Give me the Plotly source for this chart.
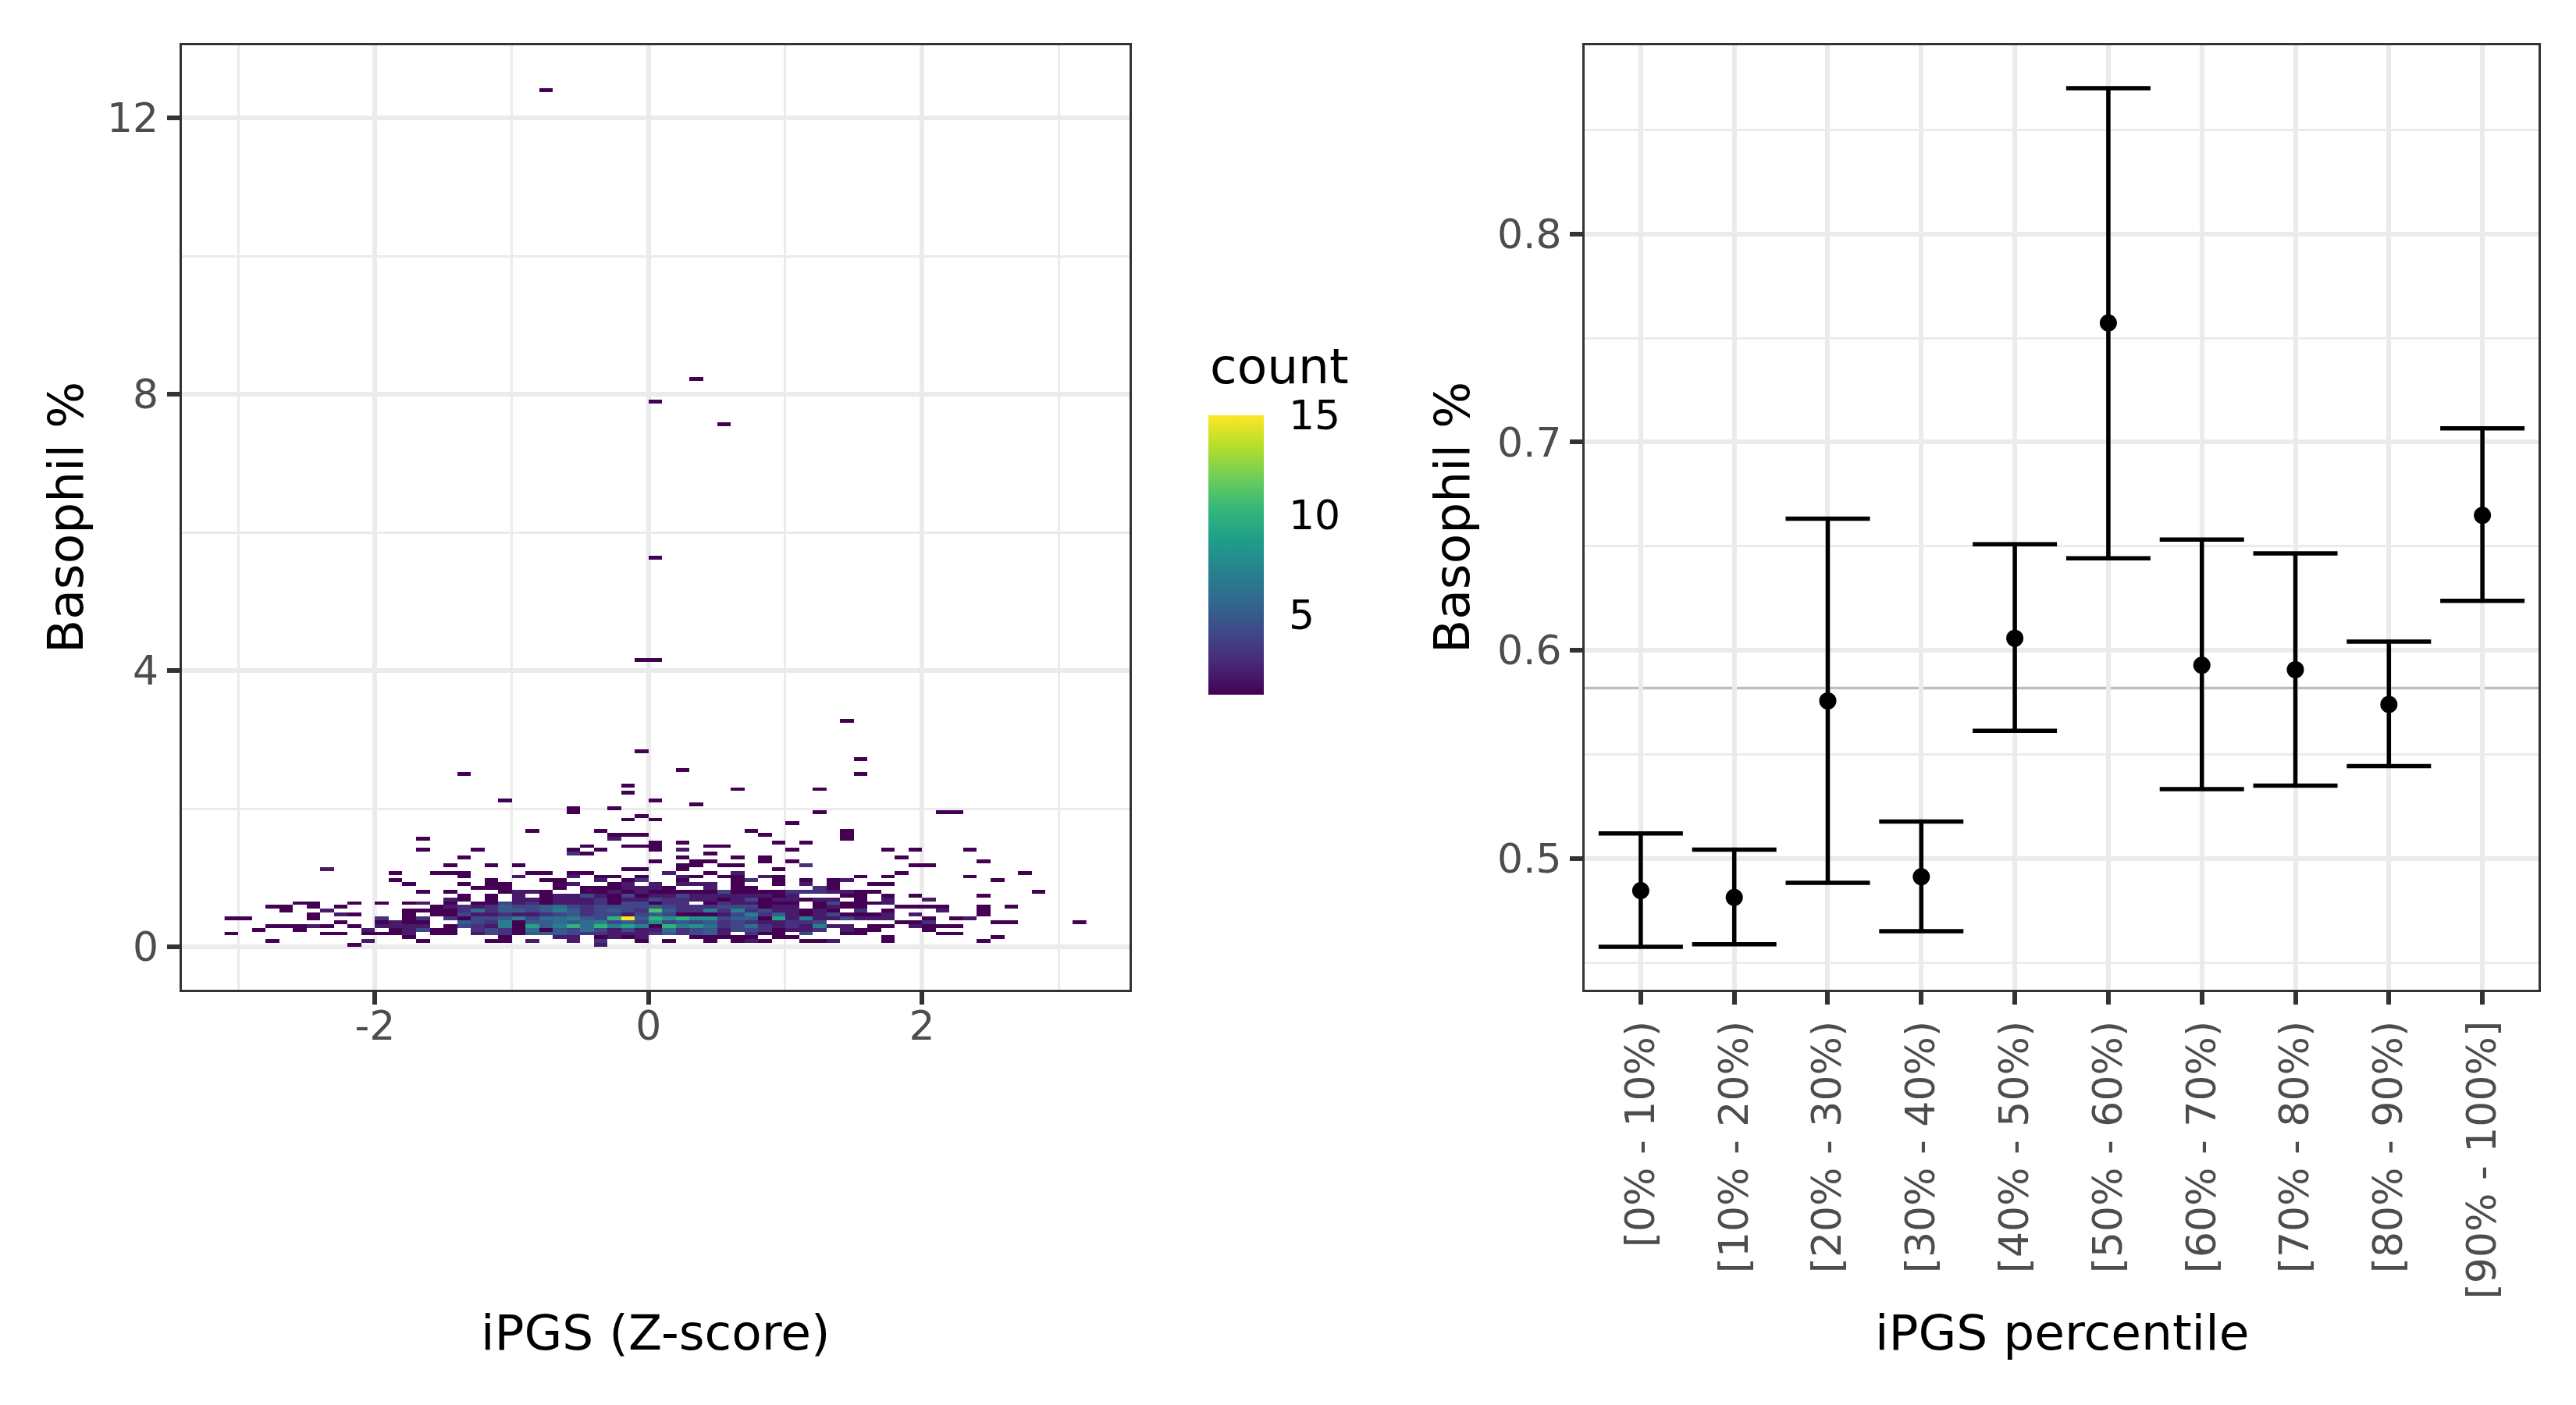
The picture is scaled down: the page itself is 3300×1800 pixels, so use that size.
import plotly.graph_objects as go

# ---------------- Left panel data: 2-D bin counts ----------------
# bins of width 0.1 (iPGS Z-score) x 0.055 (Basophil %), values are bin centres
X_BIN = 0.1
Y_BIN = 0.055
X_FIRST = -3.05
N_XBINS = 63
Y_FIRST = 0.0275
N_YBINS = 226

row_y = [0.0275, 0.0825, 0.1375, 0.1925, 0.2475, 0.3025, 0.3575, 0.4125, 0.4675, 0.5225,
         0.5775, 0.6325, 0.6875, 0.7425, 0.7975, 0.8525, 0.9075, 0.9625, 1.0175, 1.0725,
         1.1275, 1.1825, 1.2375, 1.2925, 1.3475, 1.4025, 1.4575, 1.5125, 1.5675, 1.6225,
         1.6775, 1.7875, 1.8425, 1.8975, 1.9525, 2.0075, 2.0625, 2.1175, 2.2275, 2.2825,
         2.3375, 2.5025, 2.5575, 2.7225, 2.8325, 3.2725, 4.1525, 5.6375, 7.5625, 7.8925,
         8.2225, 12.4025]

row_x = [
    [-2.15, -0.35],
    [-2.75, -2.05, -1.65, -1.15, -1.05, -0.85, -0.55, -0.35, -0.05, 0.15, 0.45, 0.65, 0.75, 0.85, 1.15, 1.25, 1.35, 1.75, 2.45],
    [-1.75, -1.05, -0.65, -0.55, -0.35, -0.25, -0.15, -0.05, 0.35, 0.45, 0.55, 0.65, 0.75, 0.95, 1.05, 1.75, 2.55],
    [-3.05, -2.35, -2.25, -2.05, -1.95, -1.85, -1.75, -1.55, -1.45, -1.25, -1.15, -1.05, -0.95, -0.85, -0.75, -0.65, -0.55, -0.45, -0.35, -0.25, -0.15, -0.05, 0.05, 0.15, 0.25, 0.35, 0.45, 0.55, 0.75, 0.85, 0.95, 1.15, 1.45, 1.55, 2.15, 2.25],
    [-2.85, -2.55, -2.05, -1.85, -1.75, -1.65, -1.55, -1.45, -1.25, -1.15, -1.05, -0.95, -0.85, -0.75, -0.65, -0.55, -0.45, -0.35, -0.25, -0.15, -0.05, 0.05, 0.15, 0.25, 0.35, 0.45, 0.55, 0.65, 0.75, 0.85, 0.95, 1.05, 1.15, 1.25, 1.45, 1.55, 1.65, 2.05],
    [-2.75, -2.65, -2.55, -2.45, -2.35, -2.15, -1.95, -1.85, -1.75, -1.65, -1.45, -1.35, -1.25, -1.15, -1.05, -0.95, -0.85, -0.75, -0.65, -0.55, -0.45, -0.35, -0.25, -0.15, -0.05, 0.05, 0.15, 0.25, 0.35, 0.45, 0.55, 0.65, 0.75, 0.85, 0.95, 1.05, 1.15, 1.25, 1.35, 1.45, 1.65, 1.75, 1.95, 2.05, 2.15, 2.25],
    [-2.25, -1.95, -1.85, -1.75, -1.65, -1.35, -1.25, -1.15, -1.05, -0.95, -0.85, -0.75, -0.65, -0.55, -0.45, -0.35, -0.25, -0.15, -0.05, 0.05, 0.15, 0.25, 0.35, 0.45, 0.55, 0.65, 0.75, 0.85, 0.95, 1.05, 1.15, 1.25, 1.85, 1.95, 2.05, 2.55, 2.65, 3.15],
    [-3.05, -2.95, -2.45, -1.95, -1.75, -1.65, -1.45, -1.35, -1.25, -1.15, -1.05, -0.95, -0.85, -0.75, -0.65, -0.55, -0.45, -0.35, -0.25, -0.15, -0.05, 0.05, 0.15, 0.25, 0.35, 0.45, 0.55, 0.65, 0.75, 0.85, 0.95, 1.05, 1.15, 1.25, 1.35, 1.45, 1.55, 1.65, 1.75, 2.05, 2.25, 2.35],
    [-2.45, -2.25, -2.15, -1.75, -1.55, -1.45, -1.35, -1.25, -1.15, -1.05, -0.95, -0.85, -0.75, -0.65, -0.55, -0.45, -0.35, -0.25, -0.15, -0.05, 0.05, 0.15, 0.25, 0.35, 0.45, 0.55, 0.65, 0.75, 0.85, 0.95, 1.05, 1.15, 1.25, 1.35, 1.45, 1.55, 1.65, 1.75, 1.95, 2.45],
    [-2.65, -2.35, -1.75, -1.65, -1.55, -1.45, -1.35, -1.25, -1.15, -1.05, -0.95, -0.85, -0.75, -0.65, -0.55, -0.45, -0.35, -0.25, -0.15, -0.05, 0.05, 0.15, 0.25, 0.35, 0.45, 0.55, 0.65, 0.75, 0.85, 0.95, 1.05, 1.15, 1.25, 1.35, 1.55, 1.75, 2.15, 2.45],
    [-2.75, -2.65, -2.45, -2.25, -1.55, -1.45, -1.35, -1.25, -1.15, -1.05, -0.95, -0.85, -0.75, -0.65, -0.55, -0.45, -0.35, -0.25, -0.15, -0.05, 0.05, 0.15, 0.25, 0.35, 0.45, 0.55, 0.65, 0.75, 0.85, 0.95, 1.05, 1.25, 1.35, 1.45, 1.55, 1.85, 1.95, 2.05, 2.15, 2.45, 2.65],
    [-2.55, -2.45, -2.15, -1.95, -1.75, -1.65, -1.45, -1.25, -1.15, -1.05, -0.95, -0.85, -0.75, -0.65, -0.55, -0.45, -0.35, -0.25, -0.15, -0.05, 0.05, 0.15, 0.25, 0.45, 0.55, 0.65, 0.75, 0.85, 0.95, 1.05, 1.25, 1.35, 1.45, 1.55, 1.65, 1.75],
    [-1.45, -1.35, -1.15, -0.95, -0.85, -0.75, -0.65, -0.55, -0.45, -0.35, -0.25, -0.15, -0.05, 0.05, 0.15, 0.25, 0.35, 0.45, 0.55, 0.65, 0.75, 0.85, 0.95, 1.05, 1.15, 1.25, 1.35, 1.55, 1.75, 2.05],
    [-1.35, -1.15, -0.95, -0.75, -0.65, -0.55, -0.45, -0.35, -0.25, -0.15, -0.05, 0.05, 0.15, 0.25, 0.35, 0.45, 0.55, 0.65, 0.75, 0.85, 0.95, 1.05, 1.45, 1.55, 1.75, 1.95, 2.45],
    [-1.65, -1.45, -1.05, -0.95, -0.85, -0.75, -0.45, -0.35, -0.25, -0.15, -0.05, 0.05, 0.15, 0.25, 0.35, 0.45, 0.55, 0.65, 0.75, 0.85, 0.95, 1.05, 1.15, 1.25, 1.35, 1.45, 1.55, 1.65, 2.85],
    [-1.25, -1.15, -1.05, -0.65, -0.45, -0.35, -0.25, -0.15, -0.05, 0.05, 0.15, 0.45, 0.65, 0.75, 1.25, 1.35],
    [-1.75, -1.35, -1.15, -1.05, -0.65, -0.55, -0.25, -0.15, 0.05, 0.25, 0.35, 0.45, 0.65, 0.95, 1.15, 1.35, 1.65, 1.75],
    [-1.85, -1.15, -0.75, -0.65, -0.35, -0.15, -0.05, 0.25, 0.65, 0.75, 0.95, 1.15, 1.35, 1.45, 2.55],
    [-1.35, -0.95, -0.55, -0.35, -0.25, -0.05, 0.25, 0.35, 0.55, 0.65, 0.85, 0.95, 1.55, 1.75, 2.35],
    [-1.85, -1.55, -1.45, -1.35, -0.85, -0.75, -0.55, -0.45, 0.15, 0.45, 0.65, 1.85, 2.75],
    [-2.35, -0.15, -0.05, 0.25, 0.95],
    [-1.45, -1.15, -0.95, 0.25, 0.35, 0.55, 0.65, 1.15, 1.95, 2.05],
    [0.05, 0.35, 0.45, 0.85, 1.05, 2.45],
    [-1.35, 0.25, 0.65, 0.85, 1.85],
    [-0.55, -0.45, 0.45],
    [-1.65, -1.25, -0.55, -0.35, 0.05, 0.25, 1.05, 1.75, 1.95, 2.35],
    [-0.45, -0.15, -0.05, 0.05, 0.45, 0.55],
    [0.05, 0.25, 0.95, 1.15],
    [-1.65, -0.25, 1.45],
    [-0.25, -0.15, -0.05, 0.85, 1.45],
    [-0.85, -0.35, 0.75, 1.45],
    [1.05],
    [-0.15, 0.05],
    [-0.05],
    [-0.55, 1.25, 2.15, 2.25],
    [-0.55, -0.25],
    [0.35],
    [-1.05, 0.05],
    [-0.15],
    [0.65, 1.25],
    [-0.15],
    [-1.35, 1.55],
    [0.25],
    [1.55],
    [-0.05],
    [1.45],
    [-0.05, 0.05],
    [0.05],
    [0.55],
    [0.05],
    [0.35],
    [-0.75],
]

row_count = [
    [1, 2],
    [1, 2, 1, 1, 1, 2, 2, 3, 1, 1, 1, 1, 2, 1, 1, 1, 2, 1, 1],
    [1, 1, 2, 2, 1, 2, 1, 2, 1, 1, 1, 1, 1, 1, 1, 1, 1],
    [1, 1, 1, 1, 1, 1, 2, 1, 1, 2, 4, 3, 1, 5, 5, 5, 4, 3, 3, 2, 2, 2, 3, 5, 3, 4, 5, 2, 3, 1, 1, 4, 1, 1, 1, 1],
    [1, 1, 2, 1, 2, 4, 1, 1, 3, 4, 3, 1, 6, 1, 5, 4, 6, 4, 2, 4, 2, 2, 6, 3, 4, 5, 2, 4, 4, 3, 1, 2, 2, 3, 2, 1, 1, 1],
    [1, 1, 1, 2, 1, 1, 2, 2, 2, 2, 1, 4, 3, 2, 7, 1, 9, 5, 7, 10, 6, 10, 7, 9, 7, 1, 10, 7, 8, 6, 3, 4, 6, 3, 2, 3, 2, 7, 2, 2, 1, 1, 2, 1, 1, 1],
    [1, 1, 2, 1, 1, 5, 4, 3, 7, 1, 5, 5, 6, 5, 6, 7, 4, 5, 4, 8, 4, 5, 4, 5, 3, 4, 3, 2, 2, 3, 3, 4, 1, 1, 3, 1, 1, 1],
    [1, 1, 1, 3, 1, 3, 3, 1, 4, 4, 5, 7, 4, 6, 6, 7, 5, 4, 10, 15, 5, 10, 8, 10, 8, 8, 4, 5, 5, 1, 9, 2, 7, 2, 2, 4, 2, 2, 2, 1, 1, 2],
    [1, 2, 1, 1, 1, 1, 4, 2, 2, 3, 2, 2, 3, 4, 5, 3, 4, 4, 2, 4, 5, 4, 1, 1, 1, 2, 4, 7, 3, 5, 2, 1, 2, 4, 1, 1, 1, 2, 2, 1],
    [1, 2, 1, 1, 1, 1, 3, 6, 3, 5, 5, 4, 5, 7, 5, 3, 4, 5, 4, 3, 11, 5, 3, 3, 7, 3, 7, 3, 4, 2, 2, 1, 2, 1, 3, 1, 2, 1],
    [1, 1, 1, 1, 1, 2, 3, 2, 3, 5, 4, 4, 5, 6, 4, 3, 4, 4, 4, 4, 5, 4, 3, 3, 3, 4, 4, 4, 1, 2, 2, 1, 2, 1, 1, 1, 1, 1, 1, 1, 1],
    [1, 1, 1, 1, 1, 2, 1, 1, 1, 4, 2, 3, 1, 2, 2, 2, 3, 1, 4, 4, 1, 3, 3, 1, 3, 2, 2, 1, 1, 1, 1, 4, 1, 1, 1, 2],
    [2, 1, 1, 2, 2, 1, 2, 2, 2, 3, 1, 2, 2, 4, 3, 3, 2, 2, 1, 2, 4, 1, 2, 2, 1, 2, 2, 1, 2, 2],
    [1, 1, 2, 1, 2, 2, 4, 2, 1, 4, 1, 2, 2, 4, 2, 2, 2, 2, 2, 2, 1, 2, 1, 1, 1, 1, 1],
    [1, 1, 1, 2, 2, 1, 1, 1, 2, 1, 2, 1, 1, 1, 1, 1, 4, 1, 1, 1, 1, 3, 3, 3, 2, 2, 1, 1, 1],
    [1, 1, 1, 1, 1, 1, 1, 2, 2, 2, 1, 2, 1, 1, 3, 1],
    [1, 1, 1, 1, 1, 2, 1, 2, 2, 2, 2, 2, 1, 1, 2, 1, 1, 1],
    [1, 1, 1, 1, 2, 1, 3, 1, 1, 3, 1, 1, 1, 2, 1],
    [1, 2, 2, 1, 1, 1, 2, 1, 1, 1, 2, 1, 1, 1, 1],
    [1, 1, 1, 1, 1, 1, 1, 1, 2, 1, 2, 1, 1],
    [2, 1, 1, 1, 1],
    [1, 1, 1, 1, 1, 1, 1, 3, 1, 1],
    [1, 1, 1, 1, 1, 1],
    [1, 1, 1, 1, 1],
    [3, 1, 1],
    [1, 1, 1, 1, 1, 2, 1, 1, 1, 1],
    [1, 1, 1, 1, 1, 1],
    [1, 1, 1, 1],
    [1, 2, 1],
    [1, 1, 1, 1, 1],
    [1, 1, 1, 1],
    [1],
    [1, 1],
    [1],
    [1, 1, 1, 1],
    [1, 1],
    [1],
    [1, 1],
    [1],
    [1, 1],
    [1],
    [1, 1],
    [1],
    [1],
    [1],
    [1],
    [1, 1],
    [1],
    [1],
    [1],
    [1],
    [1],
]

x_tickvals = [-2, 0, 2]
x_ticktext = ["-2", "0", "2"]

# ---------------- Right panel data ----------------
pct_labels = ["[0% - 10%)", "[10% - 20%)", "[20% - 30%)", "[30% - 40%)", "[40% - 50%)",
              "[50% - 60%)", "[60% - 70%)", "[70% - 80%)", "[80% - 90%)", "[90% - 100%]"]
pct_mean = [0.4845, 0.4812, 0.5757, 0.4912, 0.6058, 0.7573, 0.5928, 0.5907, 0.5740, 0.6648]
pct_lower = [0.4575, 0.4587, 0.4883, 0.4650, 0.5613, 0.6442, 0.5333, 0.5350, 0.5443, 0.6238]
pct_upper = [0.5120, 0.5042, 0.6632, 0.5177, 0.6510, 0.8701, 0.6532, 0.6465, 0.6042, 0.7067]
overall_mean = 0.5818

# ---------------- build count grid ----------------
grid = [[None] * N_XBINS for _ in range(N_YBINS)]
for yv, xs, ns in zip(row_y, row_x, row_count):
    i = int(round((yv - Y_FIRST) / Y_BIN))
    for xv, n in zip(xs, ns):
        j = int(round((xv - X_FIRST) / X_BIN))
        grid[i][j] = n

# page is 3300x1800; the html body has an 8px margin, so the figure is
# made 16px smaller and every page-pixel position is shifted by 8px.
OFF = 8
W, H = 3300 - 2 * OFF, 1800 - 2 * OFF
FONT = "DejaVu Sans"
TICK_COL = "#4d4d4d"
GRID_COL = "#ebebeb"
FRAME_COL = "#333333"


def fx(p):
    return (p - OFF) / W


def fy(p):
    return 1 - (p - OFF) / H


CB_LEFT, CB_RIGHT, CB_TOP, CB_BOTTOM = 1548, 1619, 532, 890
CMIN, CMAX = 1, 15

fig = go.Figure()

fig.add_trace(go.Heatmap(
    z=grid, x0=X_FIRST, dx=X_BIN, y0=Y_FIRST, dy=Y_BIN,
    colorscale="Viridis", zmin=CMIN, zmax=CMAX, hoverinfo="skip",
    xaxis="x", yaxis="y",
    colorbar=dict(
        x=fx(CB_LEFT), xanchor="left", xpad=0,
        y=fy(CB_BOTTOM), yanchor="bottom", ypad=0,
        len=CB_BOTTOM - CB_TOP, lenmode="pixels",
        thickness=CB_RIGHT - CB_LEFT, thicknessmode="pixels",
        outlinewidth=0,
        tickvals=[5, 10, 15], ticks="outside", ticklen=22,
        tickcolor="rgba(0,0,0,0)",
        tickfont=dict(family=FONT, size=52, color="black"),
    ),
))

err_plus = [u - m for u, m in zip(pct_upper, pct_mean)]
err_minus = [m - l for m, l in zip(pct_mean, pct_lower)]
xpos = list(range(len(pct_labels)))

fig.add_trace(go.Scatter(
    x=xpos, y=pct_mean, mode="markers",
    marker=dict(color="black", size=22),
    error_y=dict(type="data", symmetric=False, array=err_plus, arrayminus=err_minus,
                 color="black", thickness=5.5, width=54),
    xaxis="x2", yaxis="y2", showlegend=False, hoverinfo="skip",
))

# right panel y range: data range expanded by 5%
lo, hi = min(pct_lower), max(pct_upper)
pad = 0.05 * (hi - lo)

common = dict(
    showline=True, mirror=True, linecolor=FRAME_COL, linewidth=3,
    ticks="outside", ticklen=16, tickwidth=5.5, tickcolor=FRAME_COL,
    showgrid=True, gridcolor=GRID_COL, gridwidth=5.7,
    zeroline=False, automargin=False,
    tickfont=dict(family=FONT, size=52, color=TICK_COL),
)
minor_grid = dict(showgrid=True, gridcolor=GRID_COL, gridwidth=2.8, ticks="")

fig.update_layout(
    width=W, height=H,
    margin=dict(l=0, r=0, t=0, b=0),
    paper_bgcolor="white", plot_bgcolor="white",
    showlegend=False,
    font=dict(family=FONT),
    xaxis=dict(domain=[fx(232.5), fx(1446.5)], range=[-3.415, 3.515],
               tickvals=x_tickvals, ticktext=x_ticktext, ticklabelstandoff=-17,
               minor=dict(dtick=1, tick0=0, **minor_grid), anchor="y", **common),
    yaxis=dict(domain=[fy(1268), fy(58)], range=[-0.6215, 13.0515],
               tick0=0, dtick=4, minor=dict(dtick=2, tick0=0, **minor_grid), anchor="x", **common),
    xaxis2=dict(domain=[fx(2030), fx(3252)], range=[-0.6, len(pct_labels) - 0.4],
                tickvals=xpos, ticktext=pct_labels, tickangle=-90, anchor="y2", **common),
    yaxis2=dict(domain=[fy(1268), fy(58)], range=[lo - pad, hi + pad],
                tick0=0, dtick=0.1, tickformat=".1f",
                minor=dict(dtick=0.05, tick0=0, **minor_grid), anchor="x2", **common),
)

# overall mean reference line
fig.add_shape(type="line", xref="x2 domain", yref="y2", x0=0, x1=1,
              y0=overall_mean, y1=overall_mean,
              line=dict(color="#bebebe", width=3.5), layer="below")

# white tick marks inside the colour bar
for v in [5, 10]:
    yp = CB_BOTTOM - (v - CMIN) / (CMAX - CMIN) * (CB_BOTTOM - CB_TOP)
    for a, b in [(CB_LEFT, CB_LEFT + 14), (CB_RIGHT - 14, CB_RIGHT)]:
        fig.add_shape(type="line", xref="paper", yref="paper",
                      x0=fx(a), x1=fx(b), y0=fy(yp), y1=fy(yp),
                      line=dict(color="white", width=2), layer="above")

title_font = dict(family=FONT, size=63, color="black")
annos = [
    dict(text="iPGS (Z-score)", x=fx(840), y=fy(1707)),
    dict(text="iPGS percentile", x=fx(2641), y=fy(1707)),
    dict(text="Basophil %", x=fx(84), y=fy(663), textangle=-90),
    dict(text="Basophil %", x=fx(1860), y=fy(663), textangle=-90),
    dict(text="count", x=fx(CB_LEFT), y=fy(469), xanchor="left"),
]
for a in annos:
    base = dict(xref="paper", yref="paper", showarrow=False, font=title_font,
                xanchor="center", yanchor="middle")
    base.update(a)
    fig.add_annotation(**base)

fig.write_html("out.html")
